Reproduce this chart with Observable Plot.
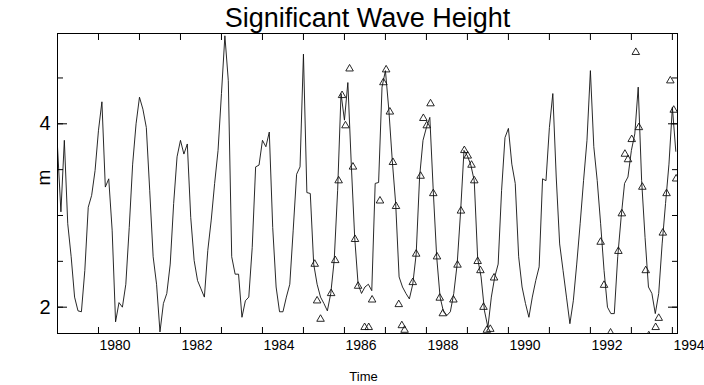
<!DOCTYPE html>
<html><head><meta charset="utf-8">
<script src="https://cdn.jsdelivr.net/npm/d3@7"></script>
<script src="https://cdn.jsdelivr.net/npm/@observablehq/plot@0.6"></script>
<style>body{margin:0;background:#fff}#chart{width:704px;height:385px}</style>
</head><body><div id="chart"></div>
<script>
const startYear = 1979;
const hsMonthly = [
3.75,3.04,3.82,2.91,2.55,2.11,1.96,1.95,2.4,3.09,3.22,3.49,
3.93,4.24,3.31,3.4,2.84,1.84,2.05,2.0,2.25,2.87,3.56,4.0,
4.29,4.16,3.96,3.27,2.55,2.25,1.73,2.04,2.15,2.47,3.13,3.64,
3.82,3.67,3.78,2.98,2.51,2.29,2.2,2.11,2.62,2.95,3.35,3.71,
4.33,4.96,4.47,2.55,2.36,2.36,1.89,2.07,2.11,2.65,3.53,3.55,
3.82,3.75,3.91,2.87,2.22,1.95,1.95,2.11,2.25,2.84,3.45,3.53,
4.76,3.25,3.24,2.47,2.25,2.11,2.04,1.96,2.15,2.51,3.27,4.33,
4.04,4.45,3.56,2.76,2.25,2.15,2.22,2.25,2.18,3.35,3.36,4.4,
4.58,4.15,3.6,3.13,2.33,2.22,2.15,2.09,2.25,2.58,3.42,3.82,
3.96,4.07,3.27,2.55,2.11,1.95,1.91,1.95,2.15,2.47,3.04,3.71,
3.65,3.55,3.38,2.53,2.33,1.96,1.78,2.11,2.33,2.47,3.27,3.85,
3.95,3.56,3.35,2.55,2.22,2.04,1.89,2.11,2.29,2.44,3.4,3.38,
3.96,4.33,3.42,2.69,2.4,2.11,1.82,2.07,2.47,2.91,3.38,3.82,
4.58,3.75,3.38,2.91,2.4,2.0,1.93,1.93,2.55,2.98,3.35,3.42,
3.71,3.89,4.4,3.38,2.76,2.22,2.15,1.93,2.15,2.69,3.13,3.56,
4.18,3.7
];
const obsTime = [
1985.275,1985.333,1985.417,1985.675,1985.775,1985.858,1985.942,1986.025,1986.125,1986.208,
1986.258,1986.333,1986.492,1986.592,1986.675,1986.867,1986.95,1987.017,1987.108,1987.183,
1987.258,1987.325,1987.4,1987.467,1987.667,1987.75,1987.858,1987.925,1988.008,1988.1,
1988.167,1988.258,1988.325,1988.4,1988.658,1988.758,1988.842,1988.925,1989.008,1989.1,
1989.167,1989.25,1989.317,1989.392,1989.475,1989.558,1989.65,
1992.25,1992.333,1992.492,1992.683,1992.767,1992.842,1992.917,1993.008,1993.108,1993.183,
1993.267,1993.35,1993.425,1993.592,1993.667,1993.767,1993.858,1993.95,1994.033,1994.092
];
const obsHs = [
2.47,2.07,1.87,2.15,2.51,3.38,4.31,3.98,4.6,3.53,
2.74,2.23,1.78,1.78,2.08,3.16,4.45,4.59,4.13,3.58,
3.1,2.03,1.8,1.75,2.27,2.58,3.43,4.06,3.98,4.22,
3.24,2.55,2.1,1.93,2.08,2.46,3.05,3.71,3.65,3.55,
3.38,2.5,2.4,2.0,1.75,1.76,2.32,
2.71,2.24,1.72,2.61,3.02,3.67,3.61,3.83,4.78,3.96,
3.31,2.4,1.69,1.78,1.88,2.81,3.24,4.47,4.15,3.4
];
const yearTicks = [1980,1981,1982,1983,1984,1985,1986,1987,1988,1989,1990,1991,1992,1993,1994];
const yearLabels = [1980,1982,1984,1986,1988,1990,1992,1994];
const yMinorTicks = [2,2.5,3,3.5,4,4.5];
const yMajorTicks = [2,4];
const yLabels = [2,4];

const series = hsMonthly.map((v, i) => ({t: startYear + i / 12, hs: v}));
const obs = obsTime.map((t, i) => ({t, hs: obsHs[i]}));
const blank = () => "";

const chart = Plot.plot({
  width: 704, height: 385,
  marginLeft: 57, marginRight: 27, marginTop: 33, marginBottom: 52,
  style: {fontFamily: "'Liberation Sans', Arial, sans-serif", background: "white", color: "black", overflow: "visible"},
  x: {domain: [1979, 1994.125]},
  y: {domain: [1.713, 4.985]},
  marks: [
    Plot.line(series, {x: "t", y: "hs", stroke: "#111", strokeWidth: 0.9, clip: true}),
    Plot.dot(obs, {x: "t", y: "hs", symbol: "triangle", r: 2.8, stroke: "#111", fill: "none", strokeWidth: 0.9, clip: true}),
    Plot.frame({stroke: "black", strokeWidth: 1}),
    Plot.axisX(yearTicks, {anchor: "bottom", tickSize: -6, tickFormat: blank, label: null}),
    Plot.axisX(yearTicks, {anchor: "top", tickSize: -6, tickFormat: blank, label: null}),
    Plot.axisX(yearLabels, {anchor: "bottom", tickSize: 0, tickPadding: 7, textAnchor: "start", dx: 1, fontSize: 14, tickFormat: "d", label: null}),
    Plot.axisY(yMinorTicks, {anchor: "left", tickSize: -6, tickFormat: blank, label: null}),
    Plot.axisY(yMinorTicks, {anchor: "right", tickSize: -6, tickFormat: blank, label: null}),
    Plot.axisY(yMajorTicks, {anchor: "left", tickSize: -10, tickFormat: blank, label: null}),
    Plot.axisY(yMajorTicks, {anchor: "right", tickSize: -10, tickFormat: blank, label: null}),
    Plot.axisY(yLabels, {anchor: "left", tickSize: 0, tickPadding: 7, fontSize: 20, tickFormat: "d", label: null}),
    Plot.text(["Significant Wave Height"], {frameAnchor: "top", lineAnchor: "middle", dy: -15, fontSize: 27}),
    Plot.text(["Time"], {frameAnchor: "bottom", lineAnchor: "middle", dx: -4, dy: 43, fontSize: 13}),
    Plot.text(["m"], {frameAnchor: "left", dx: -14, dy: 2, rotate: -90, fontSize: 19})
  ]
});
document.getElementById("chart").append(chart);
</script>
</body></html>
